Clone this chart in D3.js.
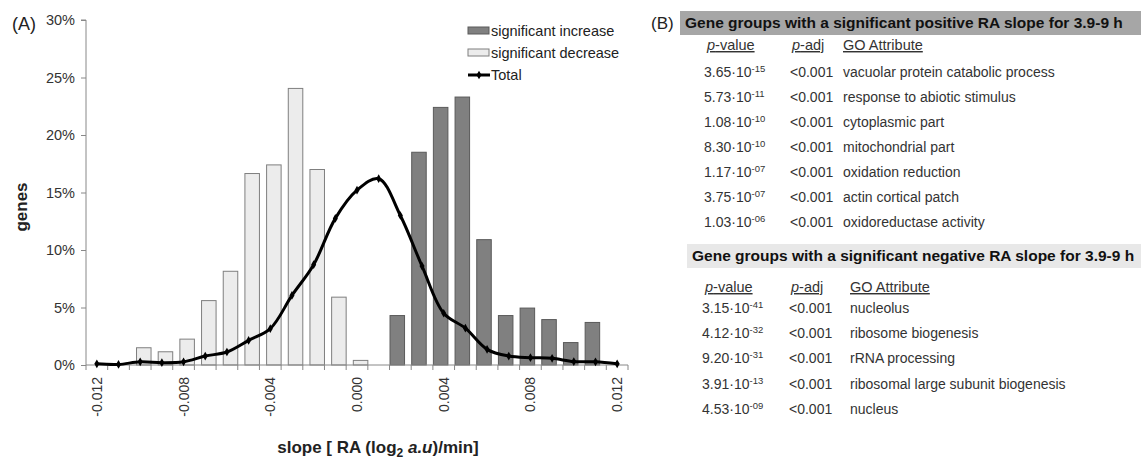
<!DOCTYPE html>
<html lang="en">
<head>
<meta charset="UTF-8">
<title>RA slope histogram</title>
<script src="https://cdnjs.cloudflare.com/ajax/libs/d3/7.8.5/d3.min.js"></script>
<style>
    html, body { margin: 0; padding: 0; background: #fff; overflow: hidden; }
    svg { display: block; font-family: "Liberation Sans", Arial, sans-serif; }
</style>
</head>
<body>
<script>
// slope bins (log2 a.u / min)
const slopes = [-0.012, -0.011, -0.010, -0.009, -0.008, -0.007, -0.006, -0.005, -0.004, -0.003, -0.002, -0.001,
    0.000, 0.001, 0.002, 0.003, 0.004, 0.005, 0.006, 0.007, 0.008, 0.009, 0.010, 0.011, 0.012];
const increase = [0, 0, 0, 0, 0, 0, 0, 0, 0, 0, 0, 0,
    0, 0, 4.3, 18.5, 22.4, 23.3, 10.9, 4.3, 4.95, 3.95, 1.95, 3.7, 0];
const decrease = [0, 0, 1.5, 1.15, 2.25, 5.6, 8.15, 16.65, 17.4, 24.05, 17.0, 5.9,
    0.4, 0, 0, 0, 0, 0, 0, 0, 0, 0, 0, 0, 0];
const total = [0.1, 0.05, 0.28, 0.2, 0.28, 0.78, 1.13, 2.14, 3.16, 6.05, 8.72, 12.75,
    15.2, 16.2, 13.0, 8.6, 4.5, 3.2, 1.36, 0.78, 0.64, 0.58, 0.3, 0.28, 0.1];
const yTicks = [0, 5, 10, 15, 20, 25, 30];
const xLabelTicks = [-0.012, -0.008, -0.004, 0.000, 0.004, 0.008, 0.012];

// panel B tables
const posMant = ["3.65", "5.73", "1.08", "8.30", "1.17", "3.75", "1.03"];
const posExp = ["-15", "-11", "-10", "-10", "-07", "-07", "-06"];
const posTerm = ["vacuolar protein catabolic process", "response to abiotic stimulus", "cytoplasmic part",
    "mitochondrial part", "oxidation reduction", "actin cortical patch", "oxidoreductase activity"];
const negMant = ["3.15", "4.12", "9.20", "3.91", "4.53"];
const negExp = ["-41", "-32", "-31", "-13", "-09"];
const negTerm = ["nucleolus", "ribosome biogenesis", "rRNA processing",
    "ribosomal large subunit biogenesis", "nucleus"];

const W = 1141, H = 460;
const svg = d3.select("body").append("svg").attr("width", W).attr("height", H);

// ---------- panel A ----------
const pLeft = 86, pRight = 628, pTop = 20, pBottom = 365;
const x = d3.scaleBand().domain(slopes).range([pLeft, pRight]).padding(0);
const y = d3.scaleLinear().domain([0, 30]).range([pBottom, pTop]);
const bw = x.bandwidth();
const barW = bw * 0.67;

svg.append("text").attr("x", 12).attr("y", 30).attr("font-size", 18).attr("fill", "#222").text("(A)");

// y axis
const yAxis = svg.append("g").attr("transform", `translate(${pLeft},0)`)
    .call(d3.axisLeft(y).tickValues(yTicks).tickSize(5).tickPadding(6).tickFormat(d => d + "%"));
yAxis.select(".domain").attr("stroke", "#888").attr("d", `M-5,${y(30)}H0V${y(0)}`);
yAxis.selectAll(".tick line").attr("stroke", "#888");
yAxis.selectAll("text").attr("font-size", 14.5).attr("fill", "#333").attr("font-family", "Liberation Sans, Arial");

// bars
svg.append("g").selectAll("rect")
    .data(slopes.map((s, i) => ({ s, v: decrease[i] })).filter(d => d.v > 0))
    .join("rect")
    .attr("x", d => x(d.s) + bw - barW)
    .attr("y", d => y(d.v))
    .attr("width", barW)
    .attr("height", d => y(0) - y(d.v))
    .attr("fill", "#ececec").attr("stroke", "#7f7f7f").attr("stroke-width", 1);

svg.append("g").selectAll("rect")
    .data(slopes.map((s, i) => ({ s, v: increase[i] })).filter(d => d.v > 0))
    .join("rect")
    .attr("x", d => x(d.s) + 0.5)
    .attr("y", d => y(d.v))
    .attr("width", barW)
    .attr("height", d => y(0) - y(d.v))
    .attr("fill", "#808080").attr("stroke", "#5a5a5a").attr("stroke-width", 1);

// x axis (category style: ticks on band edges)
const xg = svg.append("g");
xg.append("line").attr("x1", pLeft).attr("x2", pRight).attr("y1", pBottom).attr("y2", pBottom).attr("stroke", "#888");
xg.selectAll("line.tk").data(slopes.concat(["end"])).join("line")
    .attr("class", "tk")
    .attr("x1", (d, i) => pLeft + i * bw).attr("x2", (d, i) => pLeft + i * bw)
    .attr("y1", pBottom).attr("y2", pBottom + 5).attr("stroke", "#888");
xg.selectAll("text").data(xLabelTicks).join("text")
    .attr("transform", d => `translate(${x(d) + bw / 2 + 5},${pBottom + 12}) rotate(-90)`)
    .attr("text-anchor", "end")
    .attr("font-size", 14).attr("fill", "#333")
    .text(d => d.toFixed(3));

// total line
const line = d3.line()
    .x((d, i) => x(slopes[i]) + bw / 2)
    .y(d => y(d))
    .curve(d3.curveCatmullRom.alpha(0.5));
svg.append("path").datum(total).attr("d", line)
    .attr("fill", "none").attr("stroke", "#000").attr("stroke-width", 3);
svg.append("g").selectAll("path").data(total).join("path")
    .attr("transform", (d, i) => `translate(${x(slopes[i]) + bw / 2},${y(d)})`)
    .attr("d", d3.symbol(d3.symbolDiamond, 22))
    .attr("fill", "#000");

// axis titles
svg.append("text").attr("transform", "translate(27,207) rotate(-90)")
    .attr("text-anchor", "middle").attr("font-size", 17).attr("font-weight", "bold").attr("fill", "#222")
    .text("genes");
const xt = svg.append("text").attr("x", 378).attr("y", 453).attr("text-anchor", "middle")
    .attr("font-size", 17).attr("font-weight", "bold").attr("fill", "#222");
xt.append("tspan").text("slope [ RA (log");
xt.append("tspan").attr("font-size", 12).attr("dy", 4).text("2");
xt.append("tspan").attr("dy", -4).text(" ");
xt.append("tspan").attr("font-style", "italic").text("a.u");
xt.append("tspan").text(")/min]");

// legend
const legend = svg.append("g").attr("transform", "translate(468,31)");
legend.append("rect").attr("x", 0).attr("y", -4).attr("width", 21).attr("height", 7)
    .attr("fill", "#808080").attr("stroke", "#5a5a5a");
legend.append("rect").attr("x", 0).attr("y", 18).attr("width", 21).attr("height", 7)
    .attr("fill", "#ececec").attr("stroke", "#7f7f7f");
legend.append("line").attr("x1", 0).attr("x2", 22).attr("y1", 44).attr("y2", 44)
    .attr("stroke", "#000").attr("stroke-width", 3);
legend.append("path").attr("transform", "translate(11,44)").attr("d", d3.symbol(d3.symbolDiamond, 22)).attr("fill", "#000");
["significant increase", "significant decrease", "Total"].forEach((t, i) => {
    legend.append("text").attr("x", 23).attr("y", i * 22 + 5).attr("font-size", 14.5).attr("fill", "#222").text(t);
});

// ---------- panel B ----------
svg.append("text").attr("x", 651).attr("y", 29).attr("font-size", 17).attr("fill", "#222").text("(B)");

function table(cfg) {
    const g = svg.append("g");
    g.append("rect").attr("x", cfg.barX).attr("y", cfg.barY).attr("width", W - cfg.barX).attr("height", cfg.barH)
        .attr("fill", cfg.barFill);
    g.append("text").attr("x", cfg.barX + 5).attr("y", cfg.barY + cfg.barH / 2 + 5)
        .attr("font-size", 15.5).attr("font-weight", "bold").attr("fill", "#111").text(cfg.title);

    const head = g.append("g").attr("font-size", 14.5).attr("fill", "#333").attr("text-decoration", "underline");
    const h1 = head.append("text").attr("x", cfg.c1 + 3).attr("y", cfg.headY);
    h1.append("tspan").attr("font-style", "italic").text("p");
    h1.append("tspan").text("-value");
    const h2 = head.append("text").attr("x", cfg.c2 + 2).attr("y", cfg.headY);
    h2.append("tspan").attr("font-style", "italic").text("p");
    h2.append("tspan").text("-adj");
    head.append("text").attr("x", cfg.c3).attr("y", cfg.headY).text("GO Attribute");

    const rows = g.selectAll("g.row").data(cfg.mant).join("g")
        .attr("class", "row")
        .attr("transform", (d, i) => `translate(0,${cfg.rowY + i * cfg.rowH})`)
        .attr("font-size", 14).attr("fill", "#333");
    const pv = rows.append("text").attr("x", cfg.c1);
    pv.append("tspan").text(d => d + "\u00B710");
    pv.append("tspan").attr("font-size", 9.5).attr("dy", -5).text((d, i) => cfg.exp[i]);
    rows.append("text").attr("x", cfg.c2).text("<0.001");
    rows.append("text").attr("x", cfg.c3).text((d, i) => cfg.term[i]);
}

table({
    barX: 680, barY: 11, barH: 24, barFill: "#a6a6a6",
    title: "Gene groups with a significant positive RA slope for 3.9-9 h",
    c1: 704, c2: 790, c3: 843, headY: 50, rowY: 77, rowH: 25,
    mant: posMant, exp: posExp, term: posTerm
});
table({
    barX: 687, barY: 244, barH: 24, barFill: "#e8e8e8",
    title: "Gene groups with a significant negative RA slope for 3.9-9 h",
    c1: 702, c2: 789, c3: 850, headY: 292, rowY: 313, rowH: 25.2,
    mant: negMant, exp: negExp, term: negTerm
});
</script>
</body>
</html>
